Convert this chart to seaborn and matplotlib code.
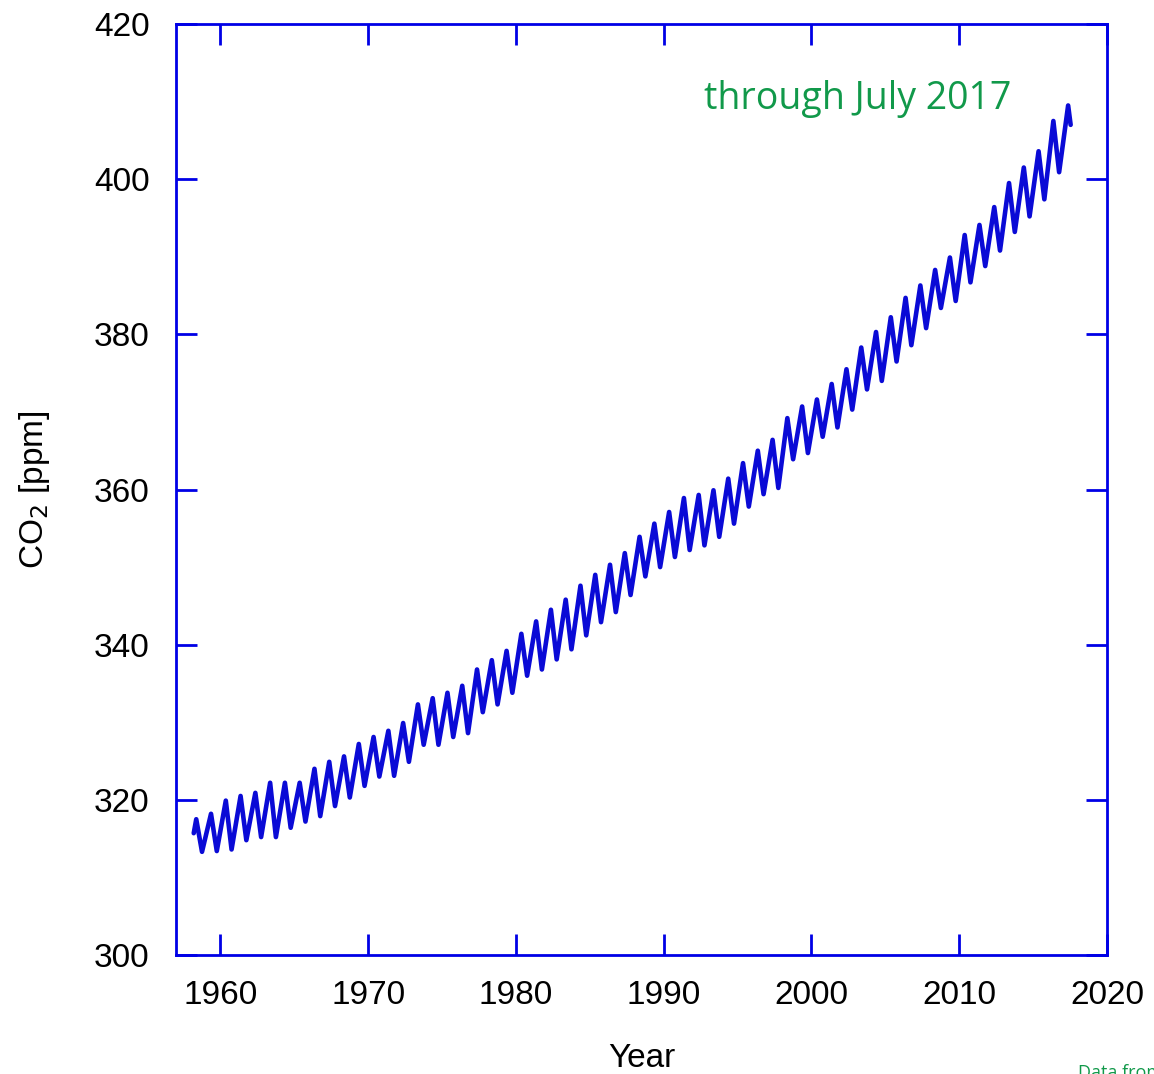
import matplotlib
matplotlib.use("Agg")
import matplotlib.pyplot as plt
import seaborn as sns
import pandas as pd

# Mauna Loa monthly CO2: first/last records, plus each year's spring maximum
# and autumn minimum (ppm)
start_year, start_co2 = 1958.20, 315.7
end_year, end_co2 = 2017.54, 407.0

peak_years = list(range(1958, 2018))
peak_co2 = [
    317.5, 318.2, 319.9, 320.5, 320.9, 322.2, 322.2, 322.2, 324.0, 324.9,
    325.6, 327.2, 328.1, 328.9, 329.9, 332.3, 333.1, 333.8, 334.7, 336.8,
    338.0, 339.2, 341.4, 343.0, 344.5, 345.8, 347.6, 349.0, 350.3, 351.8,
    353.9, 355.6, 357.1, 358.9, 359.3, 359.9, 361.4, 363.4, 365.0, 366.4,
    369.2, 370.7, 371.6, 373.6, 375.5, 378.3, 380.3, 382.2, 384.7, 386.3,
    388.3, 389.9, 392.8, 394.1, 396.4, 399.5, 401.5, 403.6, 407.5, 409.5,
]

trough_years = list(range(1958, 2017))
trough_co2 = [
    313.3, 313.4, 313.6, 314.8, 315.2, 315.2, 316.4, 317.2, 317.9, 319.2,
    320.3, 321.8, 323.0, 323.1, 324.9, 327.1, 327.1, 328.1, 328.6, 331.3,
    332.3, 333.8, 336.0, 336.8, 338.1, 339.4, 341.2, 342.9, 344.2, 346.4,
    348.8, 350.0, 351.3, 352.2, 352.8, 353.9, 355.6, 357.8, 359.4, 360.2,
    363.9, 364.7, 366.8, 368.0, 370.3, 372.9, 374.0, 376.5, 378.6, 380.8,
    383.4, 384.3, 386.7, 388.8, 390.8, 393.2, 395.2, 397.4, 400.9,
]

# fraction of the year at which the seasonal maximum (May) and minimum (Oct) fall
PEAK_PHASE = 0.37
TROUGH_PHASE = 0.76

xticks = [1960, 1970, 1980, 1990, 2000, 2010, 2020]
yticks = [300, 320, 340, 360, 380, 400, 420]

# assemble the time series in chronological order
rows = [(start_year, start_co2)]
rows += [(y + PEAK_PHASE, v) for y, v in zip(peak_years, peak_co2)]
rows += [(y + TROUGH_PHASE, v) for y, v in zip(trough_years, trough_co2)]
rows.append((end_year, end_co2))
df = pd.DataFrame(rows, columns=["year", "co2"]).sort_values("year")

sns.set_theme(style="white")
plt.rcParams["font.family"] = ["Liberation Sans", "DejaVu Sans"]

blue = "#0000e6"
green = "#11994a"

fig = plt.figure(figsize=(11.54, 10.74), dpi=100)
ax = fig.add_axes([176 / 1154, 1 - 955 / 1074, 931 / 1154, 931 / 1074])

sns.lineplot(data=df, x="year", y="co2", ax=ax, color="#0a0ad6",
             linewidth=3.3, sort=True, estimator=None)
for ln in ax.lines:
    ln.set_solid_joinstyle("round")
    ln.set_solid_capstyle("round")

ax.set_xlim(1957, 2020)
ax.set_ylim(300, 420)
ax.set_xticks(xticks)
ax.set_yticks(yticks)
ax.tick_params(axis="both", which="major", direction="in", length=15,
               width=2, color=blue, labelsize=24, labelcolor="black",
               top=True, right=True, bottom=True, left=True)
ax.tick_params(axis="x", pad=18)
ax.tick_params(axis="y", pad=19)
for s in ax.spines.values():
    s.set_color(blue)
    s.set_linewidth(2)
    s.set_visible(True)

ax.set_xlabel("Year", fontsize=24, labelpad=23, color="black")
ax.set_ylabel("CO$_2$ [ppm]", fontsize=24, labelpad=30, color="black")

ax.text(0.567, 0.919, "through July 2017", transform=ax.transAxes,
        fontsize=27, color=green, family=["Open Sans", "DejaVu Sans"],
        ha="left", va="center")

fig.text(1078 / 1154, 1 - 1064 / 1074, "Data from NOAA", fontsize=13,
         color=green, family=["Open Sans", "DejaVu Sans"],
         ha="left", va="top")

fig.savefig("out.png", dpi=100)
